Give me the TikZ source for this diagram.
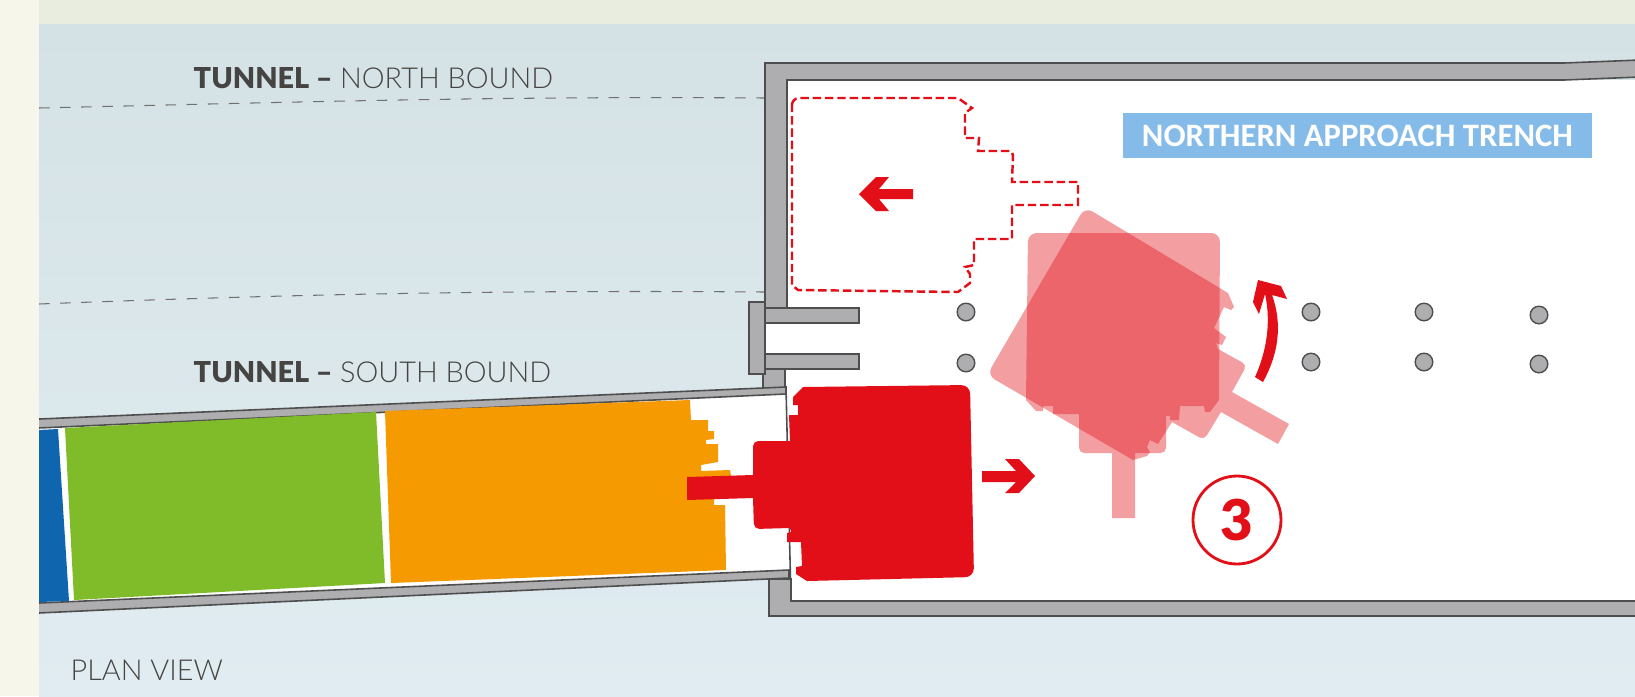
\documentclass[tikz,border=0pt]{standalone}
\usepackage{fontspec}
\setmainfont{Lato}[BoldFont={Lato Black}]
\newfontfamily\lightfont{Lato Light}
\newfontfamily\labelfont{Carlito}[BoldFont={Carlito Bold}]
\usetikzlibrary{positioning}
\definecolor{pagecream}{HTML}{F6F6EA}
\definecolor{pagetop}{HTML}{E9EDE0}
\definecolor{paneltop}{HTML}{D5E2E5}
\definecolor{panelbottom}{HTML}{E0ECF1}
\definecolor{wallgrey}{HTML}{AEADAF}
\definecolor{wallline}{HTML}{4F4E4E}
\definecolor{labelblue}{HTML}{85BBE8}
\definecolor{machinered}{HTML}{E30F18}
\definecolor{ringgreen}{HTML}{80BC29}
\definecolor{ringorange}{HTML}{F59A00}
\definecolor{ringblue}{HTML}{0F66AF}
\definecolor{inkgrey}{HTML}{454443}
\tikzset{
  wall/.style={fill=wallgrey, draw=wallline, line width=0.45pt},
  ghost/.style={fill=machinered, fill opacity=0.4},
  pile/.style={circle, minimum size=5pt, inner sep=0pt, fill=wallgrey, draw=wallline, line width=0.4pt},
  tunnelname/.style={anchor=west, inner sep=0pt, text=inkgrey, font=\fontsize{8.2}{10}\selectfont},
  tunnelline/.style={draw=wallline!80, dashed, line width=0.3pt}
}
\begin{document}
\begin{tikzpicture}[x=0.01cm, y=-0.01cm]
\useasboundingbox (0,0) rectangle (1635,696);
\fill[pagecream] (0,0) rectangle (1635,696);
\fill[pagetop] (39,0) rectangle (1635,24);
\shade[top color=paneltop, bottom color=panelbottom] (39,24) rectangle (1635,696);
% tunnel lines
\draw[tunnelline] (39,108) .. controls (300,102) and (500,96) .. (765,98);
\draw[tunnelline] (39,304) .. controls (300,294) and (500,290) .. (765,292);
% trench
\fill[white] (786,80) rectangle (1635,601);
\fill[white] (765,323) rectangle (800,354);
\fill[white] (39,428) -- (786,394) -- (791,571) -- (39,603) -- cycle;
\draw[wallline, line width=0.45pt] (786,387) -- (791,601);
\draw[wall] (765,308) -- (765,63) -- (1564,63) -- (1640,60) -- (1640,77) -- (1564,80) -- (787,80) -- (787,308);
\draw[wall] (763,369) rectangle (785,388);
\draw[wall] (769,579) -- (791,579) -- (791,601) -- (1640,601) -- (1640,616) -- (769,616) -- cycle;
\draw[wall] (765,308) rectangle (859,323);
\draw[wall] (765,354) rectangle (859,369);
\draw[wall] (749,302) rectangle (765,374);
\draw[wall] (30,419.4) -- (786,387) -- (786,394) -- (30,428.4) -- cycle;
\draw[wall] (30,603.4) -- (789,570) -- (789,578) -- (30,613.4) -- cycle;
\fill[pagecream] (0,400) rectangle (39,630);
% tunnel rings
\fill[ringblue] (39,430) -- (58,429) -- (69,601) -- (39,602) -- cycle;
\fill[ringgreen] (65,428) -- (376,412) -- (385,583) -- (74,600) -- cycle;
\fill[ringorange] (385,411) -- (690,400) -- (691,420) -- (708,420) -- (708,431) -- (714,431) -- (714,439) -- (706,440) -- (706,444) -- (718,444) -- (718,462) -- (701,465) -- (701,471) -- (730,470) -- (731,476) -- (714,500) -- (714,505) -- (725,505) -- (726,570) -- (391,583) -- cycle;
% piles
\foreach \px/\py [count=\i] in {966/312, 966/363, 1311/312, 1311/362, 1424/312, 1424/362, 1539/315, 1539/364}
  \node[pile] (pile\i) at (\px,\py) {};
% machine start
\fill[machinered] (803,387) [rounded corners=2.5pt] -- (970,385) -- (974,577) [sharp corners] -- (807,581) -- (796,574) -- (796,567) -- (802,566) -- (801,542) -- (787,542) -- (787,533) -- (791,532) -- (790,528) [rounded corners=1.5pt] -- (754,529) [sharp corners] -- (753,498) -- (687,500) -- (687,477) -- (753,475) [rounded corners=1.5pt] -- (753,441) [sharp corners] -- (790,441) -- (789,415) -- (798,415) -- (798,405) -- (793,405) -- (793,397) -- cycle;
% machine ghost straight
\fill[ghost] (1026,400) [rounded corners=2.5pt] -- (1028,233) -- (1220,233) [sharp corners] -- (1219,400) -- (1210,412) -- (1205,412) -- (1204,406) -- (1180,406) -- (1179,420) -- (1170,420) -- (1170,416) -- (1166,416) [rounded corners=1.5pt] -- (1166,453) [sharp corners] -- (1135,453) -- (1135,518) -- (1112,518) -- (1112,453) [rounded corners=1.5pt] -- (1079,453) [sharp corners] -- (1079,414) -- (1053,414) -- (1053,406) -- (1043,406) -- (1043,411) -- (1036,411) -- cycle;
% machine ghost turned
\fill[ghost] (1133,460) [rounded corners=2.5pt] -- (987,375) -- (1085,207) [sharp corners] -- (1228,293) -- (1234,307) -- (1231,310) -- (1224,307) -- (1214,328) -- (1226,337) -- (1222,345) -- (1216,343) -- (1218,349) [rounded corners=1.5pt] -- (1247,365) [sharp corners] -- (1232,392) -- (1289,424) -- (1278,444) -- (1221,412) [rounded corners=1.5pt] -- (1204,440) [sharp corners] -- (1172,422) -- (1158,444) -- (1150,440) -- (1147,447) -- (1150,452) -- (1147,456) -- cycle;
% machine dashed end
\draw[machinered, line width=0.7pt, dash pattern=on 2.4pt off 1.1pt] (792,105) [rounded corners=2pt] -- (792,98) [sharp corners] -- (958,98) -- (972,108) -- (965,113) -- (965,138) -- (979,138) -- (978,151) -- (1011,151) -- (1013,155) -- (1012,182) -- (1078,182) -- (1078,205) -- (1012,205) -- (1012,239) -- (974,239) -- (974,265) -- (965,267) -- (970,274) -- (970,283) -- (958,292) -- (798,290) -- (792,285) -- cycle;
% arrows
\fill[machinered] (859,194) -- (876,177) -- (889,177) -- (879,189) -- (913,189) -- (913,199) -- (879,199) -- (889,211) -- (876,211) -- cycle;
\fill[machinered] (1035,476) -- (1019,459) -- (1005,459) -- (1016,471) -- (982,471) -- (982,482) -- (1016,482) -- (1005,493) -- (1019,493) -- cycle;
\fill[machinered] (1255,377) .. controls (1265,355) and (1272,325) .. (1265,294) -- (1259,314) -- (1253,302) -- (1258,280) -- (1281,286) -- (1287,299) -- (1272,295) .. controls (1283,325) and (1278,355) .. (1263,382) -- cycle;
% labels
\node[fill=labelblue, text=white, font=\labelfont\bfseries\fontsize{9.3}{12}\selectfont, minimum width=469*0.01cm, minimum height=45*0.01cm, inner sep=0pt] (trench) at (1357.5,135.5) {NORTHERN APPROACH TRENCH};
\node[tunnelname] (northname) at (193,78) {\textbf{TUNNEL –} {\lightfont NORTH BOUND}};
\node[tunnelname] (southname) at (193,372.5) {\textbf{TUNNEL –} {\lightfont SOUTH BOUND}};
\node[tunnelname] (planview) at (70,670) {\lightfont PLAN VIEW};
\node[circle, draw=machinered, line width=0.8pt, minimum size=88*0.01cm, inner sep=0pt, text=machinered, font=\bfseries\fontsize{16}{18}\selectfont] (stage) at (1237,520) {3};
\end{tikzpicture}
\end{document}
